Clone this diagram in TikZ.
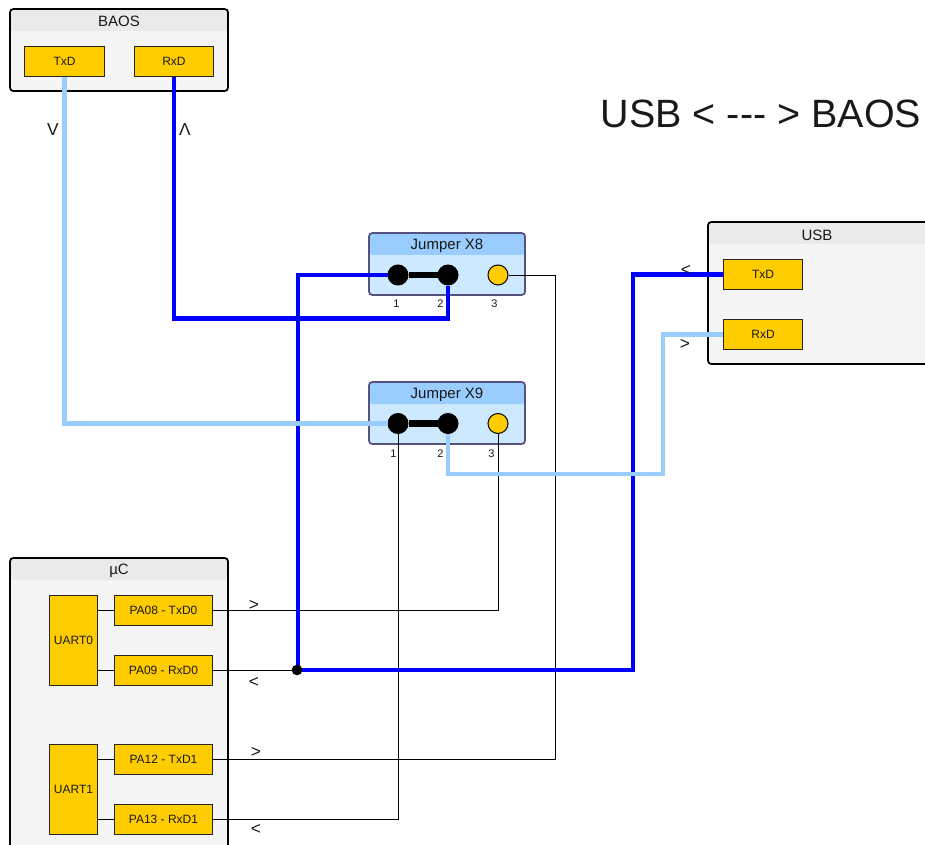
\documentclass[tikz,border=0pt]{standalone}
\usepackage{fontspec}
\setmainfont{Liberation Sans}
\definecolor{PanelGray}{HTML}{F5F5F5}
\definecolor{HeadGray}{HTML}{EAEAEA}
\definecolor{PanelBlue}{HTML}{CCE9FF}
\definecolor{HeadBlue}{HTML}{99CCFF}
\definecolor{EdgeBlue}{HTML}{56517E}
\definecolor{PinYellow}{HTML}{FFCC00}
\begin{document}
\begin{tikzpicture}
	[
		x=0.75pt,
		y=-0.75pt,
		Panel/.style n args={3}{rectangle, minimum width=#1, minimum height=#2, inner sep=0pt, rounded corners=2.5pt, draw=black, line width=1.3pt, fill=PanelGray, path picture={\fill [#3] (path picture bounding box.north west) rectangle ([yshift=-16.5pt]path picture bounding box.north east);}},
		Jumper/.style={Panel={117pt}{46.5pt}{HeadBlue}, draw=EdgeBlue, fill=PanelBlue}
	]
	\tikzstyle{Title} = [font=\fontsize{11.25pt}{13pt}\selectfont, text=black!90, inner sep=0pt]
	\tikzstyle{Small} = [font=\fontsize{9pt}{11pt}\selectfont, text=black!90, inner sep=0pt]
	\tikzstyle{Tiny} = [font=\fontsize{8.25pt}{10pt}\selectfont, text=black!90, inner sep=0pt]
	\tikzstyle{Sign} = [font=\fontsize{13pt}{15pt}\selectfont, text=black!90, inner sep=0pt]
	\tikzstyle{Port} = [rectangle, minimum width=59.5pt, minimum height=22.5pt, inner sep=0pt, draw=black!85, line width=0.75pt, fill=PinYellow, Small]
	\tikzstyle{Pad} = [Port, minimum width=74pt]
	\tikzstyle{Uart} = [Port, minimum width=36pt, minimum height=67.5pt]
	\tikzstyle{Pin} = [circle, minimum size=15pt, inner sep=0pt, draw=black, line width=0.75pt, fill=black]
	\tikzstyle{Free} = [Pin, fill=PinYellow]
	\tikzstyle{Dot} = [circle, minimum size=8pt, inner sep=0pt, fill=black]
	\tikzstyle{Thin} = [draw=black, line width=0.75pt]
	\tikzstyle{Bar} = [draw=black, line width=5pt]
	\tikzstyle{Dark} = [draw=blue, line width=3.5pt]
	\tikzstyle{Light} = [draw=HeadBlue, line width=3.5pt]

	\useasboundingbox (0,0) rectangle (925,845);

	% boxes
	\node [Panel={163.5pt}{61.5pt}{HeadGray}] (baos) at (119,50) {};
	\node [Panel={172.5pt}{106.5pt}{HeadGray}] (usb) at (823,293) {};
	\node [Panel={163.5pt}{256.5pt}{HeadGray}] (uc) at (119,729) {};
	\node [Jumper] (xeight) at (447,264) {};
	\node [Jumper] (xnine) at (447,413) {};
	\node [Title] (baostitle) at (119,21) {BAOS};
	\node [Title] (usbtitle) at (817,235) {USB};
	\node [Title] (uctitle) at (119,571) {µC};
	\node [Title] (xeighttitle) at (447,246) {Jumper X8};
	\node [Title] (xninetitle) at (447,395) {Jumper X9};

	% ports
	\node [Port] (baostx) at (64.5,61.5) {TxD};
	\node [Port] (baosrx) at (174,61.5) {RxD};
	\node [Port] (usbtx) at (763,274.5) {TxD};
	\node [Port] (usbrx) at (763,334.5) {RxD};
	\node [Uart] (uartzero) at (73.5,640.5) {UART0};
	\node [Uart] (uartone) at (73.5,789.5) {UART1};
	\node [Pad] (pazeight) at (163.5,610.5) {PA08 - TxD0};
	\node [Pad] (panine) at (163.5,670) {PA09 - RxD0};
	\node [Pad] (patwelve) at (163.5,759.5) {PA12 - TxD1};
	\node [Pad] (pathirteen) at (163.5,819.5) {PA13 - RxD1};

	% jumper pins
	\node [Pin] (xeightone) at (398,275) {};
	\node [Pin] (xeighttwo) at (448,275) {};
	\node [Free] (xeightthree) at (498,275) {};
	\node [Pin] (xnineone) at (398,423.5) {};
	\node [Pin] (xninetwo) at (448,423.5) {};
	\node [Free] (xninethree) at (498,423.5) {};
	\node [Tiny] (xeightnumone) at (396.5,303.5) {1};
	\node [Tiny] (xeightnumtwo) at (440.5,303.5) {2};
	\node [Tiny] (xeightnumthree) at (494.5,303.5) {3};
	\node [Tiny] (xninenumone) at (393.5,453.5) {1};
	\node [Tiny] (xninenumtwo) at (440.5,453.5) {2};
	\node [Tiny] (xninenumthree) at (491.5,453.5) {3};

	% bends
	\coordinate (junction) at (297,670);
	\coordinate (rxlow) at (448,318.5);
	\coordinate (rxleft) at (298,275);
	\coordinate (usbup) at (633,274.5);
	\coordinate (lightlow) at (663,474);
	\coordinate (thinup) at (555,275);

	% thin wires
	\draw [Thin] (uartzero.east |- pazeight) -- (pazeight);
	\draw [Thin] (uartzero.east |- panine) -- (panine);
	\draw [Thin] (uartone.east |- patwelve) -- (patwelve);
	\draw [Thin] (uartone.east |- pathirteen) -- (pathirteen);
	\draw [Thin] (pazeight.east) -| (xninethree.south);
	\draw [Thin] (panine.east) -- (junction);
	\draw [Thin] (patwelve.east) -| (thinup) -- (xeightthree.east);
	\draw [Thin] (pathirteen.east) -| (xnineone.south);

	% thick wires
	\draw [Dark] (baosrx.south) |- (rxlow) -- (xeighttwo.south);
	\draw [Dark] (xeightone.west) -- (rxleft) -- (rxleft |- junction) -- (junction -| usbup) -- (usbup) -- (usbtx.west);
	\draw [Light] (baostx.south) |- (xnineone.west);
	\draw [Light] (xninetwo.south) |- (lightlow) |- (usbrx.west);
	\draw [Bar] (xeightone) -- (xeighttwo);
	\draw [Bar] (xnineone) -- (xninetwo);
	\node [Dot] (junctiondot) at (junction) {};

	% direction signs
	\node [Sign] (signbaostx) at (53,130) {V};
	\node [Sign] (signbaosrx) at (185,130) {Λ};
	\node [Sign] (signusbtx) at (686,270) {<};
	\node [Sign] (signusbrx) at (685,344) {>};
	\node [Sign] (signzerotx) at (254,605) {>};
	\node [Sign] (signzerorx) at (254,682) {<};
	\node [Sign] (signonetx) at (256,752) {>};
	\node [Sign] (signonerx) at (256,829) {<};

	\node [font=\fontsize{29.6pt}{34pt}\selectfont, text=black!90, inner sep=0pt] (heading) at (761,114) {USB < -{}-{}- > BAOS};
\end{tikzpicture}
\end{document}
